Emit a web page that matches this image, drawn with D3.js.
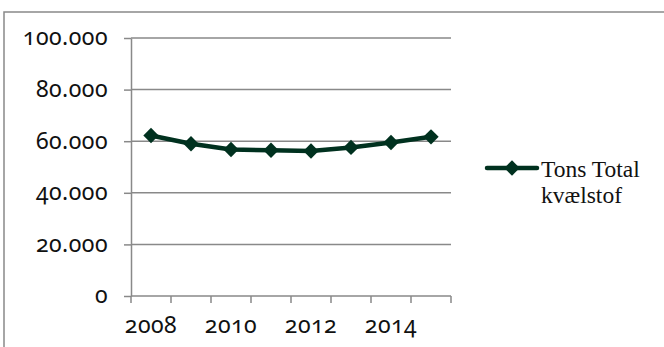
<!DOCTYPE html>
<html>
<head>
<meta charset="utf-8">
<script src="https://cdn.jsdelivr.net/npm/d3@7"></script>
<style>
  body { margin: 0; background: #fff; }
  svg { display: block; }
</style>
</head>
<body>
<script>
// chart data
const years = ["2008", "2009", "2010", "2011", "2012", "2013", "2014", "2015"];
const tonsNitrogen = [62200, 59000, 56800, 56500, 56200, 57600, 59500, 61700];
const yTicks = [0, 20000, 40000, 60000, 80000, 100000];
const xLabels = ["2008", "2010", "2012", "2014"];
const seriesName = ["Tons Total", "kvælstof"];

const width = 664, height = 347;
const plot = { left: 131, right: 451, top: 38, bottom: 296 };
const gray = "#898989";
const lineColor = "#00311f";
const numFont = "'Noto Sans', sans-serif";
const textFont = "'Liberation Serif', serif";

const svg = d3.select("body").append("svg")
  .attr("width", width)
  .attr("height", height);

// outer chart border (cut off at right and bottom like the source)
svg.append("rect")
  .attr("x", 4).attr("y", 12)
  .attr("width", width + 10).attr("height", height + 10)
  .attr("fill", "none")
  .attr("stroke", gray)
  .attr("stroke-width", 1.5);

const x = d3.scaleBand()
  .domain(years)
  .range([plot.left, plot.right])
  .paddingInner(0).paddingOuter(0);

const y = d3.scaleLinear()
  .domain([0, 100000])
  .range([plot.bottom, plot.top]);

const fmt = d3.formatLocale({ decimal: ",", thousands: ".", grouping: [3], currency: ["", " kr."] }).format(",d");

// gridlines
svg.append("g")
  .selectAll("line")
  .data(yTicks.filter(d => d > 0))
  .join("line")
  .attr("x1", plot.left).attr("x2", plot.right)
  .attr("y1", d => y(d)).attr("y2", d => y(d))
  .attr("stroke", gray)
  .attr("stroke-width", 1.5);

// y axis
const yAxis = svg.append("g")
  .attr("transform", `translate(${plot.left},0)`)
  .call(d3.axisLeft(y).tickValues(yTicks).tickSize(7).tickSizeOuter(0).tickPadding(16).tickFormat(fmt));
yAxis.select(".domain").attr("stroke", gray).attr("stroke-width", 1.5);
yAxis.selectAll(".tick line").attr("stroke", gray).attr("stroke-width", 1.5);
yAxis.selectAll(".tick text")
  .style("font-family", numFont)
  .style("font-size", "23px")
  .style("font-variant-numeric", "oldstyle-nums")
  .style("letter-spacing", "0.5px")
  .attr("fill", "#111")
  .attr("dy", "0.3em");

// x axis: ticks at category boundaries
const xAxis = svg.append("g");
xAxis.append("line")
  .attr("x1", plot.left).attr("x2", plot.right)
  .attr("y1", plot.bottom).attr("y2", plot.bottom)
  .attr("stroke", gray).attr("stroke-width", 1.5);
xAxis.selectAll(".xtick")
  .data(years.concat(["end"]))
  .join("line")
  .attr("class", "xtick")
  .attr("x1", d => d === "end" ? plot.right : x(d))
  .attr("x2", d => d === "end" ? plot.right : x(d))
  .attr("y1", plot.bottom).attr("y2", plot.bottom + 7)
  .attr("stroke", gray).attr("stroke-width", 1.5);
xAxis.selectAll(".xlabel")
  .data(xLabels)
  .join("text")
  .attr("class", "xlabel")
  .attr("x", d => x(d) + x.bandwidth() / 2)
  .attr("y", 333)
  .attr("text-anchor", "middle")
  .attr("fill", "#111")
  .style("font-family", numFont)
  .style("font-size", "23px")
  .style("font-variant-numeric", "oldstyle-nums")
  .style("letter-spacing", "0.5px")
  .text(d => d);

// series line
const pts = years.map((yr, i) => ({ yr, v: tonsNitrogen[i] }));
svg.append("path")
  .datum(pts)
  .attr("fill", "none")
  .attr("stroke", lineColor)
  .attr("stroke-width", 4.5)
  .attr("stroke-linejoin", "round")
  .attr("d", d3.line().x(d => x(d.yr) + x.bandwidth() / 2).y(d => y(d.v)));

const diamond = d3.symbol().type(d3.symbolDiamond2).size(150);
svg.append("g")
  .selectAll("path")
  .data(pts)
  .join("path")
  .attr("transform", d => `translate(${x(d.yr) + x.bandwidth() / 2},${y(d.v)})`)
  .attr("d", diamond)
  .attr("fill", lineColor);

// legend
const lg = svg.append("g").attr("transform", "translate(487,168)");
lg.append("line")
  .attr("x1", 0).attr("x2", 50)
  .attr("stroke", lineColor).attr("stroke-width", 4.5).attr("stroke-linecap", "round");
lg.append("path")
  .attr("transform", "translate(25,0)")
  .attr("d", diamond)
  .attr("fill", lineColor);
lg.selectAll("text")
  .data(seriesName)
  .join("text")
  .attr("x", 54)
  .attr("y", (d, i) => 8.5 + i * 26)
  .attr("fill", "#111")
  .style("font-family", textFont)
  .style("font-size", "23.5px")
  .text(d => d);
</script>
</body>
</html>
